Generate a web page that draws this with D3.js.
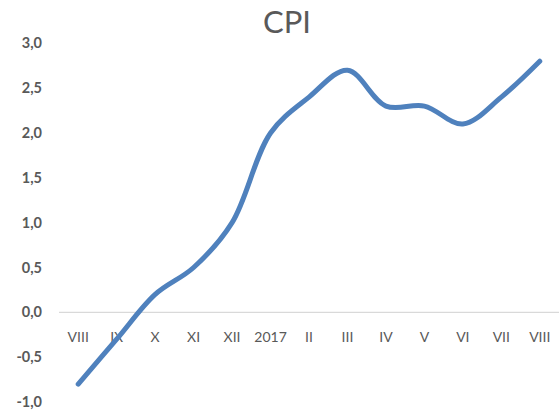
<!DOCTYPE html>
<html>
<head>
<meta charset="utf-8">
<script src="https://cdn.jsdelivr.net/npm/d3@7"></script>
<style>
  body { margin: 0; background: #fff; }
  svg { display: block; font-family: Lato, "Open Sans", sans-serif; }
</style>
</head>
<body>
<div id="chart"></div>
<script>
const months = ['VIII', 'IX', 'X', 'XI', 'XII', '2017', 'II', 'III', 'IV', 'V', 'VI', 'VII', 'VIII ']
const cpi = [-0.8, -0.3, 0.2, 0.5, 1.0, 2.0, 2.4, 2.7, 2.3, 2.3, 2.1, 2.4, 2.8]
const yTicks = [-1.0, -0.5, 0.0, 0.5, 1.0, 1.5, 2.0, 2.5, 3.0]

const width = 560
const height = 414

const svg = d3.select('#chart')
  .append('svg')
  .attr('width', width)
  .attr('height', height)

const x = d3.scaleBand()
  .domain(months)
  .range([59, 559])

const y = d3.scaleLinear()
  .domain([-1, 3])
  .range([402, 43.3])

const fmt = v => d3.format('.1f')(v).replace('.', ',').replace('−', '-')

// title
svg.append('text')
  .attr('x', 287)
  .attr('y', 33)
  .attr('text-anchor', 'middle')
  .attr('font-size', 31)
  .attr('fill', '#595959')
  .text('CPI')

// y labels
svg.append('g')
  .selectAll('text')
  .data(yTicks)
  .enter().append('text')
  .attr('x', 42)
  .attr('y', d => y(d))
  .attr('dy', '0.35em')
  .attr('text-anchor', 'end')
  .attr('font-size', 14.5)
  .attr('font-weight', 'bold')
  .attr('fill', '#595959')
  .text(fmt)

// zero line
svg.append('line')
  .attr('x1', x.range()[0])
  .attr('x2', x.range()[1])
  .attr('y1', y(0))
  .attr('y2', y(0))
  .attr('stroke', '#d9d9d9')
  .attr('stroke-width', 1.3)

// x labels
svg.append('g')
  .selectAll('text')
  .data(months)
  .enter().append('text')
  .attr('x', d => x(d) + x.bandwidth() / 2)
  .attr('y', y(0) + 25)
  .attr('dy', '0.35em')
  .attr('text-anchor', 'middle')
  .attr('font-size', 14)
  .attr('fill', '#595959')
  .text(d => d.trim())

// line
const line = d3.line()
  .x((d, i) => x(months[i]) + x.bandwidth() / 2)
  .y(d => y(d))
  .curve(d3.curveCatmullRom.alpha(0.5))

svg.append('path')
  .datum(cpi)
  .attr('d', line)
  .attr('fill', 'none')
  .attr('stroke', '#4f81bd')
  .attr('stroke-width', 5)
  .attr('stroke-linecap', 'round')
  .attr('stroke-linejoin', 'round')
</script>
</body>
</html>
